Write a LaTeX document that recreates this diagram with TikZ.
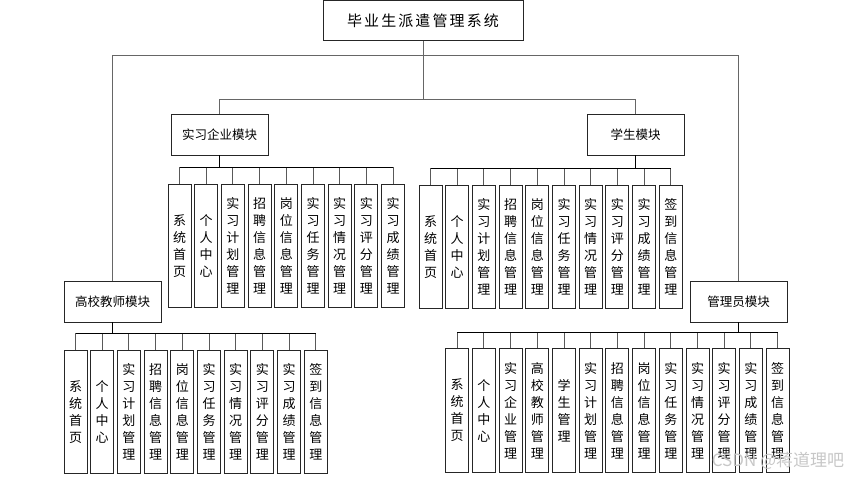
\documentclass[tikz,border=0pt]{standalone}
\usepackage{fontspec}
\newfontfamily\cjk{Noto Sans CJK SC}
\newfontfamily\cjktitle[LetterSpace=14]{Noto Sans CJK SC}
\usetikzlibrary{positioning}

\begin{document}
\begin{tikzpicture}[x=1pt,y=-1pt,inner sep=0pt]
  \useasboundingbox (0,0) rectangle (862,479);
  \tikzstyle{m}=[rectangle,draw=black!85,line width=0.9pt,minimum width=97pt,minimum height=41pt,font=\cjk\fontsize{12.5pt}{14pt}\selectfont]
  \tikzstyle{c}=[rectangle,draw=black!85,line width=0.9pt,minimum width=23pt,minimum height=123pt,anchor=north,align=center,font=\cjk\fontsize{13pt}{17pt}\selectfont]
  \tikzstyle{link}=[draw=black!60,line width=1pt]
  \tikzstyle{trunk}=[draw=black,line width=1.8pt]
  \tikzstyle{bus}=[draw=black,line width=1.4pt]
  \tikzstyle{tick}=[draw=black!65,line width=0.9pt]
  % top and modules
  \node[m,minimum width=200pt,minimum height=40pt,font=\cjktitle\fontsize{15pt}{17pt}\selectfont](sys)at(423,20.5){毕业生派遣管理系统};
  \node[m](ent)at(219.5,134.5){实习企业模块};
  \node[m](stu)at(635.5,134.5){学生模块};
  \node[m](tea)at(112.5,301.5){高校教师模块};
  \node[m](adm)at(738.5,301.5){管理员模块};
  % leaves
  \foreach\t[count=\i from 0]in{{系\\统\\首\\页},{个\\人\\中\\心},{实\\习\\计\\划\\管\\理},{招\\聘\\信\\息\\管\\理},{岗\\位\\信\\息\\管\\理},{实\\习\\任\\务\\管\\理},{实\\习\\情\\况\\管\\理},{实\\习\\评\\分\\管\\理},{实\\习\\成\\绩\\管\\理}}{\node[c](e\i)at({179.5+26.7*\i},184){\t};}
  \foreach\t[count=\i from 0]in{{系\\统\\首\\页},{个\\人\\中\\心},{实\\习\\计\\划\\管\\理},{招\\聘\\信\\息\\管\\理},{岗\\位\\信\\息\\管\\理},{实\\习\\任\\务\\管\\理},{实\\习\\情\\况\\管\\理},{实\\习\\评\\分\\管\\理},{实\\习\\成\\绩\\管\\理},{签\\到\\信\\息\\管\\理}}{\node[c](s\i)at({430.5+26.7*\i},185){\t};}
  \foreach\t[count=\i from 0]in{{系\\统\\首\\页},{个\\人\\中\\心},{实\\习\\计\\划\\管\\理},{招\\聘\\信\\息\\管\\理},{岗\\位\\信\\息\\管\\理},{实\\习\\任\\务\\管\\理},{实\\习\\情\\况\\管\\理},{实\\习\\评\\分\\管\\理},{实\\习\\成\\绩\\管\\理},{签\\到\\信\\息\\管\\理}}{\node[c](t\i)at({75.5+26.7*\i},350){\t};}
  \foreach\t[count=\i from 0]in{{系\\统\\首\\页},{个\\人\\中\\心},{实\\习\\企\\业\\管\\理},{高\\校\\教\\师\\管\\理},{学\\生\\管\\理},{实\\习\\计\\划\\管\\理},{招\\聘\\信\\息\\管\\理},{岗\\位\\信\\息\\管\\理},{实\\习\\任\\务\\管\\理},{实\\习\\情\\况\\管\\理},{实\\习\\评\\分\\管\\理},{实\\习\\成\\绩\\管\\理},{签\\到\\信\\息\\管\\理}}{\node[c,minimum height=124pt](a\i)at({457.2+26.7*\i},348){\t};}
  % upper links
  \foreach\d in{tea,adm}{\draw[link](sys.south)--++(0,15)-|(\d.north);}
  \foreach\d in{ent,stu}{\draw[link](sys.south)--++(0,59)-|(\d.north);}
  % module buses
  \draw[trunk](ent.south)--++(0,12)coordinate(entb);
  \draw[trunk](stu.south)--++(0,13)coordinate(stub);
  \draw[trunk](tea.south)--++(0,11)coordinate(teab);
  \draw[trunk](adm.south)--++(0,10)coordinate(admb);
  \foreach\i in{0,...,8}{\draw[tick](entb)-|(e\i.north);}
  \foreach\i in{0,...,9}{\draw[tick](stub)-|(s\i.north);\draw[tick](teab)-|(t\i.north);}
  \foreach\i in{0,...,12}{\draw[tick](admb)-|(a\i.north);}
  \foreach\p/\a/\b in{entb/e0/e8,stub/s0/s9,teab/t0/t9,admb/a0/a12}{\draw[bus](\a.north|-\p)--(\b.north|-\p);}
  \node[font=\cjk\fontsize{17pt}{17pt}\selectfont,text=black!22](wm)at(778,461){CSDN @蒋道理吧};
\end{tikzpicture}
\end{document}
